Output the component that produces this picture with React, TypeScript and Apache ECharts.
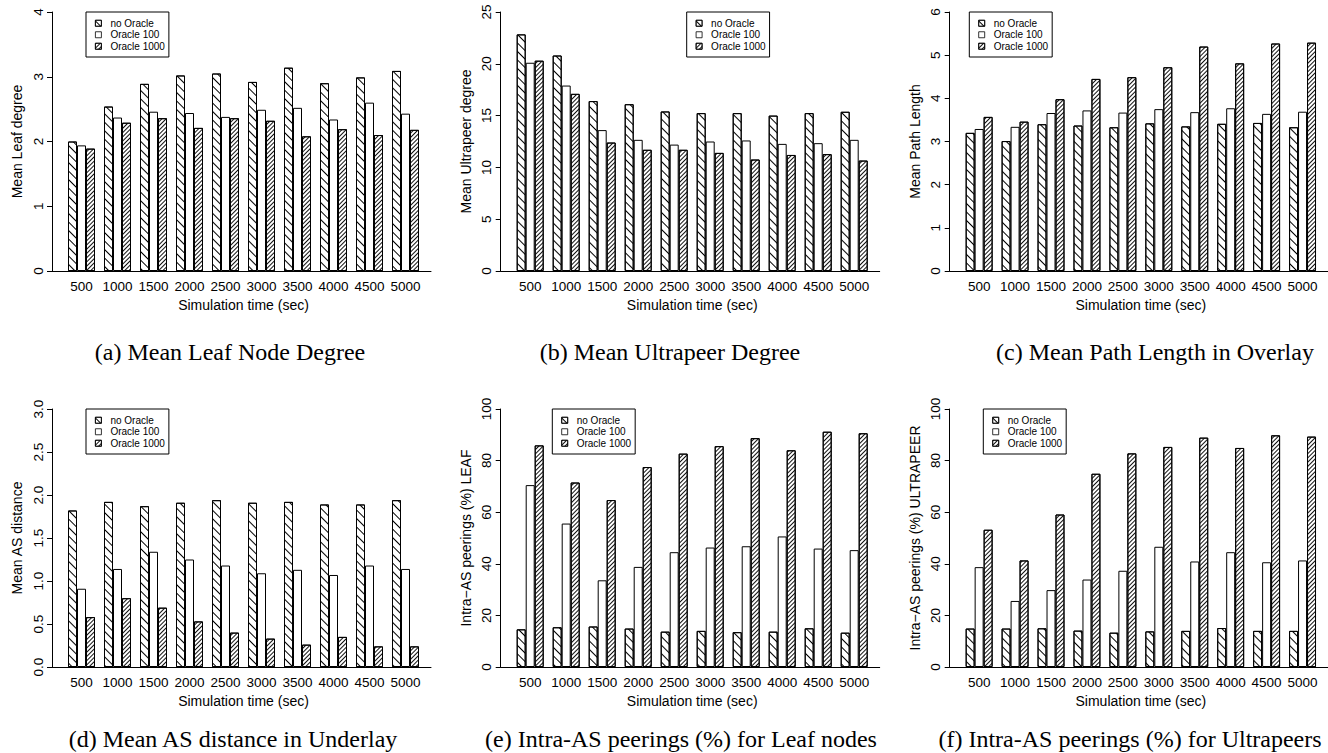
import React, { useEffect, useRef } from 'react';
import * as echarts from 'echarts';

const categories = ['500', '1000', '1500', '2000', '2500', '3000', '3500', '4000', '4500', '5000'];
const seriesNames = ['no Oracle', 'Oracle 100', 'Oracle 1000'];

const leafNo = [2.0, 2.54, 2.89, 3.02, 3.05, 2.92, 3.14, 2.9, 2.99, 3.09];
const leaf100 = [1.94, 2.37, 2.46, 2.44, 2.38, 2.49, 2.52, 2.34, 2.6, 2.43];
const leaf1000 = [1.89, 2.29, 2.36, 2.21, 2.36, 2.32, 2.08, 2.19, 2.1, 2.18];

const upNo = [22.84, 20.8, 16.4, 16.1, 15.4, 15.24, 15.24, 15.0, 15.24, 15.37];
const up100 = [20.1, 17.9, 13.6, 12.66, 12.2, 12.5, 12.6, 12.27, 12.34, 12.66];
const up1000 = [20.3, 17.1, 12.4, 11.7, 11.7, 11.4, 10.76, 11.2, 11.28, 10.66];

const pathNo = [3.2, 3.01, 3.4, 3.37, 3.33, 3.42, 3.35, 3.41, 3.43, 3.33];
const path100 = [3.29, 3.34, 3.66, 3.72, 3.67, 3.75, 3.68, 3.77, 3.64, 3.69];
const path1000 = [3.57, 3.46, 3.98, 4.45, 4.49, 4.72, 5.2, 4.81, 5.27, 5.29];

const asNo = [1.82, 1.92, 1.87, 1.91, 1.94, 1.91, 1.92, 1.89, 1.89, 1.94];
const as100 = [0.91, 1.14, 1.34, 1.25, 1.18, 1.09, 1.13, 1.07, 1.18, 1.14];
const as1000 = [0.58, 0.8, 0.69, 0.53, 0.4, 0.33, 0.26, 0.35, 0.24, 0.24];

const leafIntraNo = [14.6, 15.4, 15.7, 14.9, 13.7, 14.0, 13.5, 13.7, 15.0, 13.3];
const leafIntra100 = [70.5, 55.6, 33.6, 38.8, 44.5, 46.3, 46.8, 50.6, 45.9, 45.3];
const leafIntra1000 = [85.9, 71.5, 64.7, 77.5, 82.7, 85.6, 88.7, 84.0, 91.2, 90.6];

const upIntraNo = [14.9, 14.9, 15.0, 14.1, 13.3, 13.8, 14.0, 15.1, 14.0, 14.0];
const upIntra100 = [38.7, 25.6, 29.8, 33.9, 37.3, 46.6, 40.9, 44.5, 40.6, 41.3];
const upIntra1000 = [53.2, 41.3, 59.1, 74.9, 82.8, 85.3, 88.9, 84.9, 89.8, 89.3];

const panelValues = [
  [leafNo, leaf100, leaf1000],
  [upNo, up100, up1000],
  [pathNo, path100, path1000],
  [asNo, as100, as1000],
  [leafIntraNo, leafIntra100, leafIntra1000],
  [upIntraNo, upIntra100, upIntra1000],
];

const yMaxes = [4, 25, 6, 3, 100, 100];
const yIntervals = [1, 5, 1, 0.5, 20, 20];
const yDecimals = [0, 0, 0, 1, 0, 0];
const yTitles = [
  'Mean Leaf degree',
  'Mean Ultrapeer degree',
  'Mean Path Length',
  'Mean AS distance',
  'Intra\u2212AS peerings (%) LEAF',
  'Intra\u2212AS peerings (%) ULTRAPEER',
];
const xTitle = 'Simulation time (sec)';
const captions = [
  '(a) Mean Leaf Node Degree',
  '(b) Mean Ultrapeer Degree',
  '(c) Mean Path Length in Overlay',
  '(d) Mean AS distance in Underlay',
  '(e) Intra-AS peerings (%) for Leaf nodes',
  '(f) Intra-AS peerings (%) for Ultrapeers',
];

// layout (pixels)
const layout = [
  { x0: 68, top: 12, h: 259, lgL: 86, lgT: 12, cx: 230, cy: 352 },
  { x0: 516.7, top: 12, h: 259, lgL: 686.7, lgT: 12, cx: 670, cy: 352 },
  { x0: 965.7, top: 12, h: 259, lgL: 969.3, lgT: 12, cx: 1155, cy: 352 },
  { x0: 68, top: 409, h: 258, lgL: 86, lgT: 409, cx: 233, cy: 739 },
  { x0: 516.7, top: 409, h: 258, lgL: 552.3, lgT: 409, cx: 681, cy: 739 },
  { x0: 965.7, top: 409, h: 258, lgL: 983.3, lgT: 409, cx: 1130, cy: 739 },
];

const SANS = '"Liberation Sans", Arial, Helvetica, sans-serif';
const SERIF = '"Liberation Serif", "Times New Roman", Times, serif';

const styles = [
  {
    color: '#fff',
    borderColor: '#000',
    borderWidth: 1,
    decal: {
      symbol: 'rect',
      symbolSize: 1,
      dashArrayX: [1, 0],
      dashArrayY: [1, 5],
      rotation: Math.PI / 4,
      color: '#000',
      backgroundColor: '#fff',
    },
  },
  { color: '#fff', borderColor: '#000', borderWidth: 1 },
  {
    color: '#fff',
    borderColor: '#000',
    borderWidth: 1,
    decal: {
      symbol: 'rect',
      symbolSize: 1,
      dashArrayX: [1, 0],
      dashArrayY: [1, 2],
      rotation: -Math.PI / 4,
      color: '#111',
      backgroundColor: '#fff',
    },
  },
];

const GROUP_PX = 36;
const X_MIN = 1 - 29.5 / GROUP_PX;
const X_MAX = 10 + 25.5 / GROUP_PX;
const GRID_W = (X_MAX - X_MIN) * GROUP_PX;

function buildOption() {
  const grid: any[] = [];
  const xAxis: any[] = [];
  const yAxis: any[] = [];
  const series: any[] = [];
  const legend: any[] = [];
  const graphic: any[] = [];

  layout.forEach((p, k) => {
    grid.push({ left: p.x0 - 16, top: p.top, width: GRID_W, height: p.h, containLabel: false });
    xAxis.push({
      type: 'value',
      gridIndex: k,
      min: X_MIN,
      max: X_MAX,
      splitLine: { show: false },
      axisTick: { show: false },
      axisLine: { show: true, lineStyle: { color: '#000', width: 1 } },
      axisLabel: {
        customValues: categories.map((_, i) => i + 1),
        formatter: (v: number) => categories[Math.round(v) - 1] ?? '',
        color: '#000',
        fontSize: 13.5,
        fontFamily: SANS,
        margin: 8,
      },
      name: xTitle,
      nameLocation: 'middle',
      nameGap: 27,
      nameTextStyle: { color: '#000', fontSize: 14, fontFamily: SANS, padding: [0, 0, 0, 4] },
    });
    const dec = yDecimals[k];
    yAxis.push({
      type: 'value',
      gridIndex: k,
      min: 0,
      max: yMaxes[k],
      interval: yIntervals[k],
      splitLine: { show: false },
      axisLine: { show: true, lineStyle: { color: '#000', width: 1 } },
      axisTick: { show: true, length: 5, lineStyle: { color: '#000' } },
      axisLabel: {
        rotate: 90,
        margin: 7,
        color: '#000',
        fontSize: 13.5,
        fontFamily: SANS,
        formatter: (v: number) => v.toFixed(dec),
      },
      name: yTitles[k],
      nameLocation: 'middle',
      nameGap: 28,
      nameTextStyle: { color: '#000', fontSize: 14, fontFamily: SANS },
    });
    panelValues[k].forEach((vals, s) => {
      series.push({
        type: 'bar',
        name: seriesNames[s],
        xAxisIndex: k,
        yAxisIndex: k,
        data: categories.map((_, i) => [i + 1, vals[i]]),
        barGap: '0%',
        barCategoryGap: '25%',
        itemStyle: styles[s],
        emphasis: { disabled: true },
      });
    });
    legend.push({
      orient: 'vertical',
      left: p.lgL,
      top: p.lgT,
      data: seriesNames,
      icon: 'rect',
      itemWidth: 6,
      itemHeight: 6,
      itemGap: 0,
      padding: [5.5, 4, 5, 9],
      borderColor: '#000',
      borderWidth: 1,
      selectedMode: false,
      itemStyle: { borderColor: '#000', borderWidth: 0.8 },
      textStyle: { color: '#000', fontSize: 10, fontFamily: SANS, lineHeight: 11.5, padding: [0, 0, 0, 4] },
    });
    graphic.push({
      type: 'text',
      x: p.cx,
      y: p.cy,
      style: {
        text: captions[k],
        fill: '#000',
        font: `24px ${SERIF}`,
        textAlign: 'center',
        textVerticalAlign: 'middle',
      },
    });
  });

  return {
    animation: false,
    backgroundColor: '#fff',
    textStyle: { fontFamily: SANS },
    grid,
    xAxis,
    yAxis,
    series,
    legend,
    graphic,
  };
}

export default function App() {
  const ref = useRef<HTMLDivElement>(null);
  useEffect(() => {
    document.body.style.margin = '0';
    if (!ref.current) return;
    const chart = echarts.init(ref.current, undefined, { renderer: 'svg' });
    chart.setOption(buildOption() as any);
    return () => chart.dispose();
  }, []);
  return <div ref={ref} style={{ width: 1328, height: 753 }} />;
}
